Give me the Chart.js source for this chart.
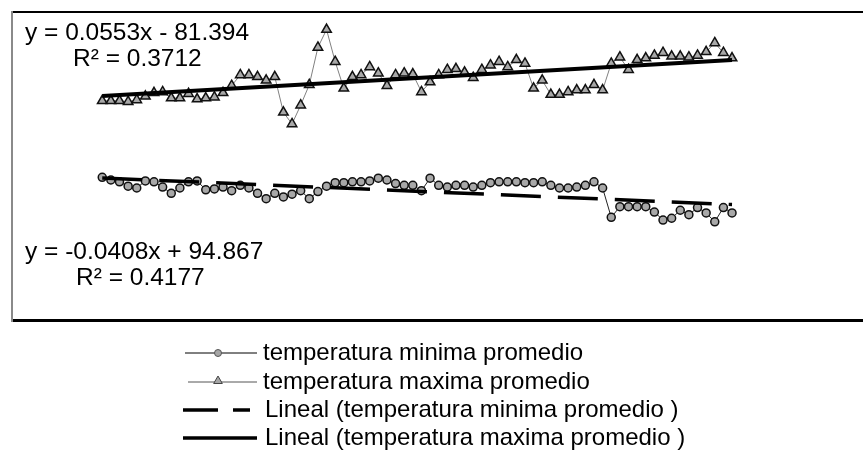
<!DOCTYPE html>
<html>
<head>
<meta charset="utf-8">
<script src="https://cdn.jsdelivr.net/npm/chart.js"></script>
<style>
  html, body { margin: 0; padding: 0; background: #fff; }
  #wrap { width: 863px; height: 456px; }
</style>
</head>
<body>
<div id="wrap"><canvas id="chartCanvas" width="863" height="456"></canvas></div>
<script>
// years (x values)
const years = [1930, 1931, 1932, 1933, 1934, 1935, 1936, 1937, 1938, 1939,
  1940, 1941, 1942, 1943, 1944, 1945, 1946, 1947, 1948, 1949,
  1950, 1951, 1952, 1953, 1954, 1955, 1956, 1957, 1958, 1959,
  1960, 1961, 1962, 1963, 1964, 1965, 1966, 1967, 1968, 1969,
  1970, 1971, 1972, 1973, 1974, 1975, 1976, 1977, 1978, 1979,
  1980, 1981, 1982, 1983, 1984, 1985, 1986, 1987, 1988, 1989,
  1990, 1991, 1992, 1993, 1994, 1995, 1996, 1997, 1998, 1999,
  2000, 2001, 2002, 2003];

// temperatura minima promedio
const tempMin = [16.2, 15.9, 15.7, 15.2, 15.0, 15.8, 15.7, 15.1, 14.4, 15.0,
  15.7, 15.8, 14.8, 14.9, 15.1, 14.7, 15.3, 15.0, 14.4, 13.8,
  14.4, 14.0, 14.3, 14.7, 13.8, 14.6, 15.2, 15.6, 15.6, 15.7,
  15.7, 15.8, 16.1, 15.9, 15.5, 15.3, 15.3, 14.7, 16.1, 15.3,
  15.1, 15.3, 15.3, 15.1, 15.3, 15.6, 15.7, 15.7, 15.7, 15.6,
  15.6, 15.7, 15.3, 15.0, 15.0, 15.1, 15.3, 15.7, 15.0, 11.7,
  12.9, 12.9, 12.9, 12.9, 12.3, 11.4, 11.6, 12.5, 12.0, 12.8,
  12.2, 11.2, 12.8, 12.2];

// temperatura maxima promedio
const tempMax = [24.8, 24.8, 24.8, 24.7, 24.9, 25.3, 25.7, 25.8, 25.1, 25.1,
  25.6, 25.0, 25.1, 25.2, 25.7, 26.5, 27.7, 27.7, 27.5, 27.1,
  27.5, 23.5, 22.2, 24.3, 26.6, 30.8, 32.8, 29.2, 26.2, 27.5,
  27.7, 28.6, 27.9, 26.5, 27.7, 27.9, 27.8, 25.8, 26.9, 27.7,
  28.3, 28.4, 28.0, 27.4, 28.3, 28.8, 29.2, 28.6, 29.4, 29.0,
  26.2, 27.1, 25.5, 25.5, 25.8, 26.0, 26.0, 26.6, 26.0, 29.0,
  29.7, 28.3, 29.4, 29.6, 29.9, 30.2, 29.8, 29.8, 29.7, 29.9,
  30.3, 31.3, 30.2, 29.6];

// linear trend coefficients [slope, intercept]
const trendMinCoef = [-0.0408, 94.867];
const trendMaxCoef = [0.0553, -81.394];

const equationLabels = ['y = 0.0553x - 81.394', 'R\u00B2 = 0.3712',
  'y = -0.0408x + 94.867', 'R\u00B2 = 0.4177'];

const legendLabels = ['temperatura minima promedio', 'temperatura maxima promedio',
  'Lineal (temperatura minima promedio )', 'Lineal (temperatura maxima promedio )'];

function toPoints(xs, ys) {
  return xs.map(function (x, i) { return { x: x, y: ys[i] }; });
}

function trendPoints(coef) {
  const x0 = years[0];
  const x1 = years[years.length - 1];
  return [{ x: x0, y: coef[0] * x0 + coef[1] }, { x: x1, y: coef[0] * x1 + coef[1] }];
}

const FONT = '"Liberation Sans", Arial, sans-serif';

function drawTriangle(ctx, x, y, r) {
  ctx.beginPath();
  ctx.moveTo(x, y - r);
  ctx.lineTo(x + r * 0.866, y + r * 0.5);
  ctx.lineTo(x - r * 0.866, y + r * 0.5);
  ctx.closePath();
  ctx.fill();
  ctx.stroke();
}

const decorPlugin = {
  id: 'decor',
  afterDraw: function (chart) {
    const ctx = chart.ctx;
    const area = chart.chartArea;
    ctx.save();

    // frame
    ctx.lineWidth = 2;
    ctx.strokeStyle = '#000';
    ctx.beginPath();
    ctx.moveTo(area.left, area.top + 1);
    ctx.lineTo(863, area.top + 1);
    ctx.stroke();
    ctx.lineWidth = 3;
    ctx.beginPath();
    ctx.moveTo(area.left, area.bottom + 1.5);
    ctx.lineTo(863, area.bottom + 1.5);
    ctx.stroke();
    ctx.lineWidth = 2;
    ctx.strokeStyle = '#8a8a8a';
    ctx.beginPath();
    ctx.moveTo(area.left, area.top);
    ctx.lineTo(area.left, area.bottom + 3);
    ctx.stroke();

    // trend equations
    ctx.fillStyle = '#000';
    ctx.textBaseline = 'alphabetic';
    ctx.textAlign = 'left';
    ctx.font = '24.5px ' + FONT;
    ctx.fillText(equationLabels[0], 25, 40);
    ctx.fillText(equationLabels[1], 73, 66);
    ctx.fillText(equationLabels[2], 25, 259);
    ctx.fillText(equationLabels[3], 76, 285);

    // legend
    const rows = [353, 382, 410, 438];
    ctx.font = '24px ' + FONT;
    ctx.textBaseline = 'middle';

    ctx.strokeStyle = '#000';
    ctx.lineWidth = 1;
    ctx.beginPath();
    ctx.moveTo(185, rows[0]);
    ctx.lineTo(257, rows[0]);
    ctx.stroke();
    ctx.fillStyle = '#a6a6a6';
    ctx.strokeStyle = '#555';
    ctx.beginPath();
    ctx.arc(218, rows[0], 3.5, 0, Math.PI * 2);
    ctx.fill();
    ctx.stroke();

    ctx.strokeStyle = '#555';
    ctx.beginPath();
    ctx.moveTo(188, rows[1]);
    ctx.lineTo(257, rows[1]);
    ctx.stroke();
    ctx.fillStyle = '#a6a6a6';
    ctx.strokeStyle = '#444';
    drawTriangle(ctx, 218, rows[1] - 1, 5);

    ctx.strokeStyle = '#000';
    ctx.lineWidth = 3.5;
    ctx.beginPath();
    ctx.moveTo(183, rows[2]);
    ctx.lineTo(218, rows[2]);
    ctx.moveTo(233, rows[2]);
    ctx.lineTo(250, rows[2]);
    ctx.stroke();
    ctx.beginPath();
    ctx.moveTo(183, rows[3]);
    ctx.lineTo(257, rows[3]);
    ctx.stroke();

    ctx.fillStyle = '#000';
    ctx.fillText(legendLabels[0], 263, rows[0]);
    ctx.fillText(legendLabels[1], 263, rows[1]);
    ctx.fillText(legendLabels[2], 265, rows[2]);
    ctx.fillText(legendLabels[3], 265, rows[3]);

    ctx.restore();
  }
};

const ctx = document.getElementById('chartCanvas').getContext('2d');
new Chart(ctx, {
  type: 'line',
  data: {
    datasets: [{
      label: legendLabels[3],
      data: trendPoints(trendMaxCoef),
      borderColor: '#000',
      borderWidth: 4,
      pointRadius: 0,
      order: 0
    }, {
      label: legendLabels[2],
      data: trendPoints(trendMinCoef),
      borderColor: '#000',
      borderWidth: 3.5,
      borderDash: [40, 17],
      pointRadius: 0,
      order: 0
    }, {
      label: legendLabels[0],
      data: toPoints(years, tempMin),
      borderColor: '#222',
      borderWidth: 1,
      pointStyle: 'circle',
      pointRadius: 4,
      pointBackgroundColor: '#a8a8a8',
      pointBorderColor: '#111',
      pointBorderWidth: 1.5,
      order: 1
    }, {
      label: legendLabels[1],
      data: toPoints(years, tempMax),
      borderColor: '#808080',
      borderWidth: 1,
      pointStyle: 'triangle',
      pointRadius: 5.5,
      pointBackgroundColor: '#a8a8a8',
      pointBorderColor: '#111',
      pointBorderWidth: 1.5,
      order: 1
    }]
  },
  options: {
    responsive: false,
    animation: false,
    devicePixelRatio: 1,
    layout: {
      padding: { left: 12, top: 11, right: 0, bottom: 137 }
    },
    plugins: {
      legend: { display: false },
      tooltip: { enabled: false }
    },
    scales: {
      x: { type: 'linear', display: false, min: 1919.54, max: 2017.37 },
      y: { display: false, min: 0.28, max: 34.89 }
    }
  },
  plugins: [decorPlugin]
});
</script>
</body>
</html>
